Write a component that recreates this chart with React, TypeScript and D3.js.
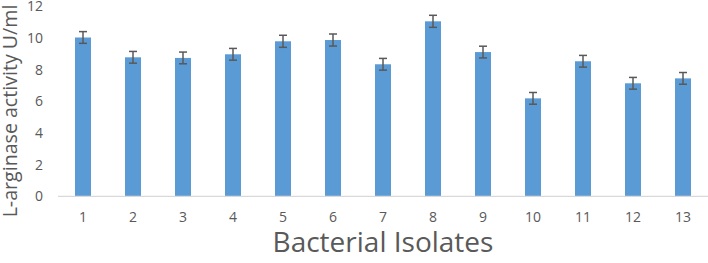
import React from "react";
import * as d3 from "d3";

const categories = ["1","2","3","4","5","6","7","8","9","10","11","12","13"];
const values = [10.02, 8.77, 8.73, 8.96, 9.78, 9.86, 8.33, 11.04, 9.1, 6.18, 8.52, 7.13, 7.44];
const errors = [0.37, 0.37, 0.37, 0.37, 0.38, 0.38, 0.37, 0.38, 0.37, 0.37, 0.37, 0.37, 0.37];
const yTicks = [0, 2, 4, 6, 8, 10, 12];
const yLabel = "L-arginase activity U/ml";
const xLabel = "Bacterial Isolates";

const W = 708;
const H = 263;
const FONT = "'Open Sans', 'Noto Sans', sans-serif";

export default function App() {
  const x = d3.scaleBand<string>().domain(categories).range([58, 708]).paddingInner(0.68).paddingOuter(0.34);
  const y = d3.scaleLinear().domain([0, 12]).range([196.3, 6.1]);
  const bw = x.bandwidth();
  return (
    <svg width={W} height={H} style={{ position: "absolute", left: 0, top: 0 }} fontFamily={FONT}>
      <rect width={W} height={H} fill="#fff" />
      {categories.map((c, i) => (
        <rect key={c} x={x(c)} y={y(values[i])} width={bw} height={y(0) - y(values[i])} fill="#5B9BD5" />
      ))}
      <line x1={58} x2={708} y1={y(0)} y2={y(0)} stroke="#D9D9D9" strokeWidth={1.3} />
      {categories.map((c, i) => {
        const cx = (x(c) as number) + bw / 2;
        const t = y(values[i] + errors[i]);
        const b = y(values[i] - errors[i]);
        return (
          <g key={c} stroke="#595959" strokeWidth={1.5}>
            <line x1={cx} x2={cx} y1={t} y2={b} />
            <line x1={cx - 4} x2={cx + 4} y1={t} y2={t} />
            <line x1={cx - 4} x2={cx + 4} y1={b} y2={b} />
          </g>
        );
      })}
      {yTicks.map((t) => (
        <text key={t} x={43} y={y(t)} dy="0.36em" textAnchor="end" fontSize={14} fill="#595959">
          {t}
        </text>
      ))}
      {categories.map((c) => (
        <text key={c} x={(x(c) as number) + bw / 2} y={222} textAnchor="middle" fontSize={14} fill="#595959">
          {c}
        </text>
      ))}
      <text x={383} y={252} textAnchor="middle" fontSize={28} fill="#595959">
        {xLabel}
      </text>
      <text transform="translate(17,111) rotate(-90)" textAnchor="middle" fontSize={19.6} fill="#595959">
        {yLabel}
      </text>
    </svg>
  );
}
